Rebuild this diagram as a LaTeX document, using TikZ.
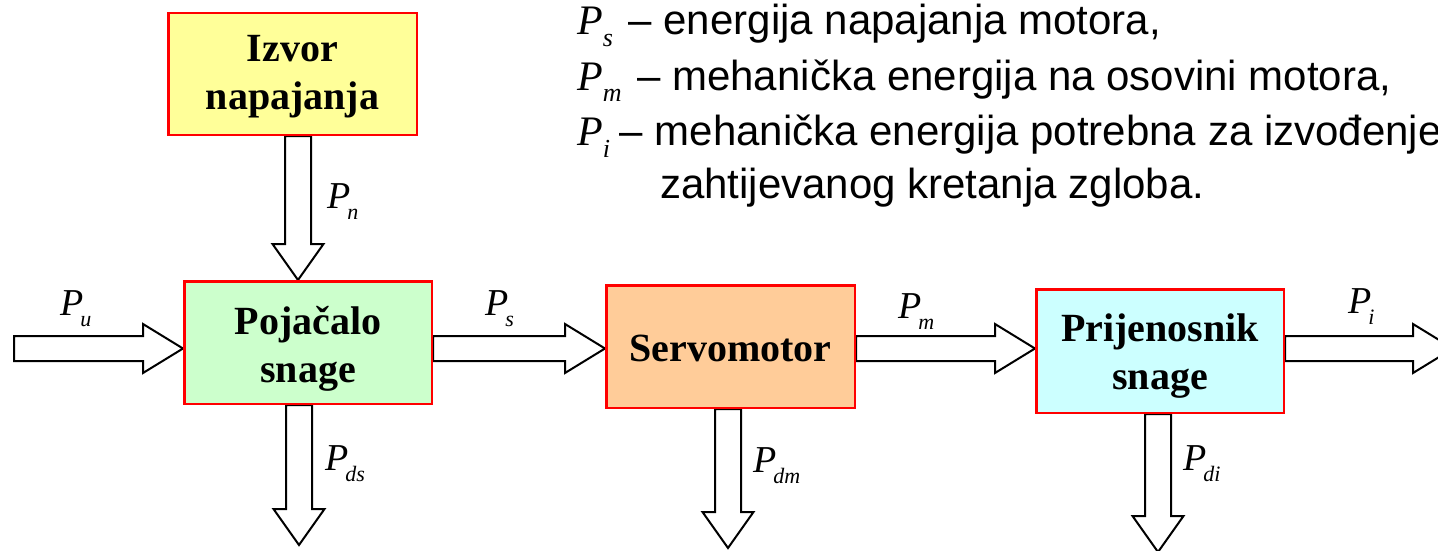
\documentclass[tikz,border=0pt]{standalone}
\usepackage{fontspec}
\setmainfont{Liberation Serif}
\setsansfont{Liberation Sans}
\usetikzlibrary{calc}
\definecolor{boxred}{RGB}{255,0,0}
\definecolor{fyellow}{RGB}{255,255,153}
\definecolor{fgreen}{RGB}{204,255,204}
\definecolor{forange}{RGB}{255,204,153}
\definecolor{fcyan}{RGB}{204,255,255}
\pgfdeclarelayer{bg}
\pgfsetlayers{bg,main}
\tikzset{
  blk/.style={draw=boxred, line width=2.5pt, inner sep=0pt},
  blktext/.style={inner sep=0pt, align=center, font=\fontsize{40}{48}\selectfont\bfseries},
  barrow/.style={draw=black, line width=2pt, fill=white, line join=miter},
  plabel/.style={anchor=base west, inner sep=0pt, font=\fontsize{38}{38}\selectfont\itshape},
  legend/.style={anchor=base west, inner sep=0pt, font=\fontsize{42}{48}\selectfont\sffamily},
}
\newcommand\Psub[1]{P\kern-3pt\raisebox{-11pt}{\fontsize{22}{22}\selectfont #1}}
\newcommand\Pleg[2][4pt]{{\rmfamily\itshape\fontsize{42}{42}\selectfont P\raisebox{-12pt}{\fontsize{26}{26}\selectfont #2}}\kern#1\relax}
% horizontal block arrow: #1 start, #2 tip
\newcommand\harrow[2]{%
  \draw[barrow] let \p1=(#1), \p2=(#2) in
    (\x1,\y1+12.5pt) -- (\x2-40pt,\y1+12.5pt) -- (\x2-40pt,\y1+24.5pt) -- (\x2,\y1)
    -- (\x2-40pt,\y1-24.5pt) -- (\x2-40pt,\y1-12.5pt) -- (\x1,\y1-12.5pt) -- cycle;}
% vertical (downward) block arrow: #1 start, #2 tip
\newcommand\varrow[2]{%
  \draw[barrow] let \p1=(#1), \p2=(#2) in
    (\x1-13pt,\y1) -- (\x1-13pt,\y2+36pt) -- (\x1-25.5pt,\y2+36pt) -- (\x1,\y2)
    -- (\x1+25.5pt,\y2+36pt) -- (\x1+13pt,\y2+36pt) -- (\x1+13pt,\y1) -- cycle;}
\begin{document}
\begin{tikzpicture}[x=1pt,y=-1pt]
\useasboundingbox (0,0) rectangle (1438,551);

% boxes
\node[blk, fill=fyellow, minimum width=248.5pt, minimum height=121.5pt] (izvor) at (292.5,74) {};
\node[blk, fill=fgreen, minimum width=247.5pt, minimum height=122.5pt] (poj) at (308,342.5) {};
\node[blk, fill=forange, minimum width=248.5pt, minimum height=122.5pt] (servo) at (730.5,346.5) {};
\node[blk, fill=fcyan, minimum width=247.5pt, minimum height=123.5pt] (prij) at (1160,351) {};

% box texts
\node[blktext, yshift=-3pt] (izvortxt) at (izvor.center) {Izvor\\napajanja};
\node[blktext, yshift=-6pt] (pojtxt) at (poj.center) {Pojačalo\\snage};
\node[blktext, yshift=-2pt] (servotxt) at (servo.center) {Servomotor};
\node[blktext, yshift=-5.5pt] (prijtxt) at (prij.center) {Prijenosnik\\snage};

% helper coordinates
\coordinate (row) at (0,348.5);
\coordinate (uin) at (14,348.5);
\coordinate (iout) at (1453,348.5);
\coordinate (colN) at (298,0);
\coordinate (colDS) at (299,0);
\coordinate (colDM) at (728,0);
\coordinate (colDI) at (1158,0);
\coordinate (dsout) at (299,545);
\coordinate (dmout) at (728,548);
\coordinate (diout) at (1158,552);

\begin{pgfonlayer}{bg}
\harrow{uin}{poj.west |- row}
\harrow{poj.east |- row}{servo.west |- row}
\harrow{servo.east |- row}{prij.west |- row}
\harrow{prij.east |- row}{iout}
\varrow{izvor.south -| colN}{poj.north -| colN}
\varrow{poj.south -| colDS}{dsout}
\varrow{servo.south -| colDM}{dmout}
\varrow{prij.south -| colDI}{diout}
\end{pgfonlayer}

% arrow labels
\node[plabel] (lu) at (60,315) {\Psub{u}};
\node[plabel] (ln) at (327,208) {\Psub{n}};
\node[plabel] (ls) at (485,315) {\Psub{s}};
\node[plabel] (lm) at (898,318) {\Psub{m}};
\node[plabel] (li) at (1348,313) {\Psub{i}};
\node[plabel] (lds) at (325,470) {\Psub{ds}};
\node[plabel] (ldm) at (753,472) {\Psub{dm}};
\node[plabel] (ldi) at (1183,470) {\Psub{di}};

% legend
\node[legend] (leg1) at (577,35) {\Pleg{s} – energija napajanja motora,};
\node[legend] (leg2) at (577,90) {\Pleg{m} – mehanička energija na osovini motora,};
\node[legend] (leg3) at (577,145) {\Pleg[-2pt]{i} – mehanička energija potrebna za izvođenje};
\node[legend] (leg4) at (660,198) {zahtijevanog kretanja zgloba.};
\end{tikzpicture}
\end{document}
